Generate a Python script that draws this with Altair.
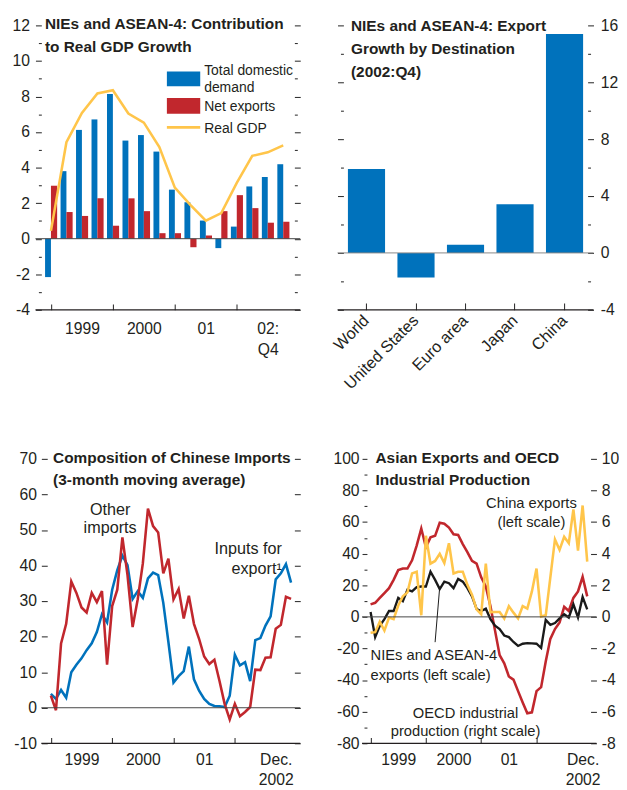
import altair as alt
import pandas as pd

FONT = "Liberation Sans, Arial, Helvetica, sans-serif"
TXT = "#231F20"
BLUE = "#0072BC"
RED = "#C1272D"
YELLOW = "#FFC54A"
DARK = "#231F20"

# ---------------- Panel 1: contribution to real GDP growth (quarters 1999Q1..2002Q4)
p1_quarters = list(range(16))
p1_domestic = [-2.16, 3.80, 6.12, 6.71, 8.14, 5.52, 5.83, 4.90, 2.76, 2.05, 1.02, -0.53, 0.68, 2.94, 3.47, 4.19]
p1_net = [2.98, 1.50, 1.28, 2.27, 0.73, 2.27, 1.55, 0.31, 0.31, -0.48, 0.18, 1.55, 2.45, 1.72, 0.90, 0.95]
p1_gdp = [0.44, 5.43, 7.07, 8.17, 8.35, 7.04, 6.53, 5.16, 2.87, 1.90, 1.01, 1.44, 3.14, 4.66, 4.86, 5.25]
p1_tick_pos = [0, 4, 8, 12]
p1_label_pos = [2, 6, 10, 14]
p1_labels = ["1999", "2000", "01", "02:\nQ4"]
p1_title = ["NIEs and ASEAN-4: Contribution", "to Real GDP Growth"]
p1_legend = [["Total domestic", "demand"], ["Net exports"], ["Real GDP"]]

# ---------------- Panel 2: export growth by destination
p2_dest = ["World", "United States", "Euro area", "Japan", "China"]
p2_growth = [5.9, -1.72, 0.57, 3.43, 15.4]
p2_title = ["NIEs and ASEAN-4: Export", "Growth by Destination", "(2002:Q4)"]

# ---------------- Panel 3: composition of Chinese imports (monthly, Jan 1999..Dec 2002)
p3_months = list(range(48))
p3_inputs = [3.9, 2.5, 5.0, 2.8, 10.0, 12.1, 13.9, 16.2, 18.1, 21.3, 26.3, 24.0,
             33.2, 38.7, 42.8, 40.1, 30.6, 32.8, 30.9, 36.4, 38.0, 37.3, 29.5, 18.5,
             7.1, 8.9, 10.3, 17.2, 8.0, 4.8, 2.5, 1.1, 0.5, 0.4, 0.2, 3.4,
             14.9, 11.9, 12.8, 7.5, 19.0, 19.6, 23.1, 25.7, 36.1, 37.8, 40.4, 35.2]
p3_other = [3.4, -0.7, 18.1, 23.6, 35.5, 32.3, 28.2, 26.8, 32.3, 29.7, 32.8, 12.1,
            28.6, 33.2, 47.9, 37.3, 22.7, 30.5, 40.6, 56.0, 51.1, 49.3, 37.8, 41.9,
            30.5, 33.4, 25.1, 31.5, 23.6, 19.4, 14.4, 12.3, 13.5, 7.5, 1.1, -3.3,
            1.1, -2.4, -1.2, 0.2, 10.7, 10.6, 14.1, 14.2, 22.2, 23.3, 31.2, 30.6]
p3_tick_pos = [0, 12, 24, 36]
p3_label_pos = [6, 18, 30, 44]
p3_labels = ["1999", "2000", "01", "Dec.\n2002"]
p3_title = ["Composition of Chinese Imports", "(3-month moving average)"]

# ---------------- Panel 4: Asian exports and OECD industrial production
p4_months = list(range(48))
p4_nies = [3.1, -12.8, -5.6, -1.4, 3.7, 3.7, 12.0, 9.9, 17.2, 16.1, 18.8, 19.2,
           19.2, 28.6, 23.4, 17.6, 22.3, 21.3, 18.2, 24.0, 22.3, 18.2, 13.0, 5.0,
           3.7, 5.2, -1.4, -5.6, -7.7, -11.8, -12.8, -15.9, -18.4, -17.0, -16.6, -16.8,
           -17.0, -19.7, -1.9, -5.0, -3.9, -1.0, 1.7, -0.4, 7.9, -0.4, 12.6, 4.8]
p4_china = [-10.1, -9.7, -3.1, -8.7, -0.4, -1.4, 7.2, 13.0, 15.5, 27.5, 28.6, 1.0,
            51.3, 33.7, 35.4, 39.9, 34.1, 46.6, 27.5, 28.6, 28.6, 20.3, 14.1, 4.8,
            1.7, 33.7, 3.0, 3.1, 3.1, -1.0, 6.8, 2.7, -1.0, 6.8, 5.2, 16.1,
            30.6, 0.2, 1.0, 25.0, 49.0, 42.4, 50.7, 46.6, 68.0, 42.0, 70.5, 35.0]
p4_oecd = [0.79, 0.89, 1.20, 1.51, 1.82, 2.34, 2.96, 3.06, 3.06, 3.58, 4.51, 5.59,
           4.41, 5.03, 5.13, 5.96, 5.90, 5.65, 5.23, 5.19, 4.61, 4.10, 3.54, 3.37,
           2.50, 1.92, 0.68, -0.87, -2.42, -2.94, -3.77, -3.97, -4.70, -5.42, -6.10, -6.04,
           -4.70, -4.45, -2.83, -1.39, -0.77, -0.35, 0.64, 0.37, 1.20, 1.61, 2.54, 1.30]
p4_tick_pos = [0, 12, 24, 36]
p4_label_pos = [6, 18, 30, 46]
p4_labels = ["1999", "2000", "01", "Dec.\n2002"]
p4_title = ["Asian Exports and OECD", "Industrial Production"]


# ---------------- helpers
def one():
    return alt.Chart(pd.DataFrame({"k": [0]}))


def label_expr(positions, labels):
    out = ""
    for p, l in zip(positions, labels):
        lines = l.split("\n")
        if len(lines) > 1:
            txt = "[" + ", ".join("'" + s + "'" for s in lines) + "]"
        else:
            txt = "'" + l + "'"
        out += "datum.value == %s ? %s : " % (p, txt)
    return out + "''"


def xaxis(tick_pos, label_pos, labels, size=6, pad=8, lh=21):
    vals = sorted(tick_pos + label_pos)
    return alt.Axis(values=vals, labelExpr=label_expr(label_pos, labels),
                    tickOpacity={"condition": {"test": "indexof(%s, datum.value) >= 0" % label_pos, "value": 0}, "value": 1},
                    tickSize=size, offset=-size, domain=False, grid=False, title=None,
                    labelAngle=0, labelAlign="center", labelBaseline="top", labelPadding=pad,
                    labelLineHeight=lh, labelOverlap=False, labelFlush=False)


def ylab(every):
    return "datum.value %% %d == 0 ? '' + datum.value : ''" % every


def ysize(every, major=6, minor=3):
    return {"condition": {"test": "datum.value %% %d != 0" % every, "value": minor}, "value": major}


def title_layer(lines, x, y, lh):
    return one().mark_text(text=lines, font=FONT, fontSize=15.7, fontWeight="bold", align="left",
                           baseline="alphabetic", lineHeight=lh, color=TXT).encode(
        x=alt.value(x), y=alt.value(y))


def note(lines, x, y, align, lh, size=15):
    return one().mark_text(text=lines, font=FONT, fontSize=size, align=align,
                           baseline="alphabetic", lineHeight=lh, color=TXT).encode(x=x, y=y)


# ---------------- Panel 1
df1 = pd.DataFrame({"q": p1_quarters, "dom": p1_domestic, "net": p1_net, "gdp": p1_gdp})
X1 = alt.Scale(domain=[-1, 16.1], nice=False, zero=False)
Y1 = alt.Scale(domain=[-4, 12], nice=False, zero=False)
xax1 = xaxis(p1_tick_pos, p1_label_pos, p1_labels, pad=11, lh=22)
y1L = alt.Axis(orient="left", values=list(range(-4, 13)), labelExpr=ylab(2), tickSize=ysize(2),
               offset=-6, domain=False, grid=False, title=None, labelPadding=6)
y1R = alt.Axis(orient="right", values=list(range(-4, 13)), labels=False, tickSize=ysize(2),
               offset=-6, domain=False, grid=False, title=None)
b1 = alt.Chart(df1)
dom_bars = b1.transform_calculate(q0="datum.q - 0.38").mark_bar(color=BLUE).encode(
    x=alt.X("q0:Q", scale=X1, axis=xax1), x2="q:Q",
    y=alt.Y("dom:Q", scale=Y1, axis=y1L), y2=alt.Y2Datum(0))
net_bars = b1.transform_calculate(q1="datum.q + 0.40").mark_bar(color=RED).encode(
    x=alt.X("q:Q", scale=X1, axis=xax1), x2="q1:Q",
    y=alt.Y("net:Q", scale=Y1, axis=None), y2=alt.Y2Datum(0))
gdp_line = b1.mark_line(color=YELLOW, strokeWidth=2.6).encode(
    x=alt.X("q:Q", scale=X1, axis=xax1), y=alt.Y("gdp:Q", scale=Y1, axis=None))
zero1 = one().mark_rule(color="#444", strokeWidth=1).encode(y=alt.YDatum(0, scale=Y1, axis=y1R))
bot1 = one().mark_rule(color=DARK, strokeWidth=1.2).encode(y=alt.YDatum(-4, scale=Y1, axis=None))
leg_blue = one().mark_rect(color=BLUE).encode(x=alt.value(134), x2=alt.value(168), y=alt.value(47), y2=alt.value(62))
leg_red = one().mark_rect(color=RED).encode(x=alt.value(134), x2=alt.value(168), y=alt.value(74), y2=alt.value(90))
leg_line = one().mark_rule(color=YELLOW, strokeWidth=2.6).encode(x=alt.value(134), x2=alt.value(168), y=alt.value(104))
leg_t1 = note(p1_legend[0], alt.value(172), alt.value(50.7), "left", 17, 14.2)
leg_t2 = note(p1_legend[1], alt.value(172), alt.value(87.3), "left", 17, 14.2)
leg_t3 = note(p1_legend[2], alt.value(172), alt.value(110), "left", 17, 14.2)
p1 = alt.layer(dom_bars, net_bars, gdp_line, zero1, bot1, leg_blue, leg_red, leg_line,
               leg_t1, leg_t2, leg_t3, title_layer(p1_title, 9.7, 4, 23.3)
               ).resolve_axis(y="independent").properties(width=270, height=290)

# ---------------- Panel 2
df2 = pd.DataFrame({"dest": p2_dest, "g": p2_growth})
X2 = alt.Scale(domain=p2_dest, paddingInner=0.25, paddingOuter=0.21)
Y2 = alt.Scale(domain=[-4, 16], nice=False, zero=False)
x2ax = alt.Axis(labelAngle=315, labelAlign="right", labelBaseline="middle", offset=-7, tickSize=7,
                domain=False, grid=False, title=None, labelPadding=8, labelFontSize=16.5)
y2L = alt.Axis(orient="left", values=list(range(-4, 17, 2)), labels=False, tickSize=ysize(4),
               offset=-6, domain=False, grid=False, title=None)
y2R = alt.Axis(orient="right", values=list(range(-4, 17, 2)), labelExpr=ylab(4), tickSize=ysize(4),
               offset=-6, domain=False, grid=False, title=None, labelPadding=7)
bars2 = alt.Chart(df2).mark_bar(color=BLUE).encode(
    x=alt.X("dest:N", scale=X2, axis=x2ax), y=alt.Y("g:Q", scale=Y2, axis=y2L), y2=alt.Y2Datum(0))
zero2 = one().mark_rule(color="#888", strokeWidth=1).encode(y=alt.YDatum(0, scale=Y2, axis=y2R))
bot2 = one().mark_rule(color=DARK, strokeWidth=1.2).encode(y=alt.YDatum(-4, scale=Y2, axis=None))
p2 = alt.layer(bars2, zero2, bot2, title_layer(p2_title, 13.7, 5.7, 23.5)
               ).resolve_axis(y="independent").properties(width=261, height=290)

# ---------------- Panel 3
df3 = pd.DataFrame({"m": p3_months, "inputs": p3_inputs, "other": p3_other})
X3 = alt.Scale(domain=[-3.01, 48.8], nice=False, zero=False)
Y3 = alt.Scale(domain=[-10, 70], nice=False, zero=False)
xax3 = xaxis(p3_tick_pos, p3_label_pos, p3_labels, pad=9, lh=20)
y3L = alt.Axis(orient="left", values=list(range(-10, 71, 10)), labelExpr="'' + datum.value", tickSize=6,
               offset=-12, domain=False, grid=False, title=None, labelPadding=5)
y3R = alt.Axis(orient="right", values=list(range(-10, 71, 10)), labels=False, tickSize=6,
               offset=-6, domain=False, grid=False, title=None)
b3 = alt.Chart(df3)
inp_line = b3.mark_line(color=BLUE, strokeWidth=2.6).encode(
    x=alt.X("m:Q", scale=X3, axis=xax3), y=alt.Y("inputs:Q", scale=Y3, axis=y3L))
oth_line = b3.mark_line(color=RED, strokeWidth=2.6).encode(
    x=alt.X("m:Q", scale=X3, axis=xax3), y=alt.Y("other:Q", scale=Y3, axis=None))
zero3 = one().mark_rule(color="#444", strokeWidth=1).encode(
    x=alt.XDatum(-1.86, scale=X3, axis=xax3), x2=alt.X2Datum(48.8),
    y=alt.YDatum(0, scale=Y3, axis=y3R))
bot3 = one().mark_rule(color=DARK, strokeWidth=1.2).encode(
    x=alt.XDatum(-1.86, scale=X3, axis=xax3), x2=alt.X2Datum(48.8),
    y=alt.YDatum(-10, scale=Y3, axis=None))
n31 = note(["Other", "imports"], alt.XDatum(11.6, scale=X3, axis=xax3), alt.YDatum(54.3, scale=Y3, axis=None), "center", 19, 16.5)
n32 = note(["Inputs for", "export\u00b9"], alt.XDatum(45.2, scale=X3, axis=xax3), alt.YDatum(43.2, scale=Y3, axis=None), "right", 20, 16.5)
p3 = alt.layer(inp_line, oth_line, zero3, bot3, n31, n32, title_layer(p3_title, 18, 4.3, 22.4)
               ).resolve_axis(y="independent").properties(width=270, height=290)

# ---------------- Panel 4
df4 = pd.DataFrame({"m": p4_months, "nies": p4_nies, "china": p4_china, "oecd": p4_oecd})
X4 = alt.Scale(domain=[-1.85, 49], nice=False, zero=False)
Y4L = alt.Scale(domain=[-80, 100], nice=False, zero=False)
Y4R = alt.Scale(domain=[-8, 10], nice=False, zero=False)
xax4 = xaxis(p4_tick_pos, p4_label_pos, p4_labels, pad=9, lh=20)
y4L = alt.Axis(orient="left", values=list(range(-80, 101, 10)), labelExpr=ylab(20), tickSize=ysize(20, 5, 3),
               offset=-5, domain=False, grid=False, title=None, labelPadding=3)
y4R = alt.Axis(orient="right", values=list(range(-8, 11, 2)), labelExpr="'' + datum.value", tickSize=6,
               offset=-6, domain=False, grid=False, title=None, labelPadding=5)
b4 = alt.Chart(df4)
oecd_line = b4.mark_line(color=RED, strokeWidth=2.6).encode(
    x=alt.X("m:Q", scale=X4, axis=xax4), y=alt.Y("oecd:Q", scale=Y4R, axis=y4R))
nies_line = b4.mark_line(color="#1a1a1a", strokeWidth=2.4).encode(
    x=alt.X("m:Q", scale=X4, axis=xax4), y=alt.Y("nies:Q", scale=Y4L, axis=y4L))
china_line = b4.mark_line(color=YELLOW, strokeWidth=2.6).encode(
    x=alt.X("m:Q", scale=X4, axis=xax4), y=alt.Y("china:Q", scale=Y4L, axis=y4L))
zero4 = one().mark_rule(color="#444", strokeWidth=1).encode(y=alt.YDatum(0, scale=Y4L, axis=y4L))
bot4 = one().mark_rule(color=DARK, strokeWidth=1.2).encode(y=alt.YDatum(-80, scale=Y4L, axis=y4L))
ptr4 = one().mark_rule(color="#1a1a1a", strokeWidth=1).encode(
    x=alt.XDatum(14.0, scale=X4, axis=xax4), x2=alt.X2Datum(14.96),
    y=alt.YDatum(-16, scale=Y4L, axis=y4L), y2=alt.Y2Datum(17.6))
n41 = note(["China exports", "(left scale)"], alt.XDatum(34.9, scale=X4, axis=xax4), alt.YDatum(68.9, scale=Y4L, axis=y4L), "center", 19)
n42 = note(["NIEs and ASEAN-4", "exports (left scale)"], alt.XDatum(0, scale=X4, axis=xax4), alt.YDatum(-27.3, scale=Y4L, axis=y4L), "left", 20)
n43 = note(["OECD industrial", "production (right scale)"], alt.XDatum(20.6, scale=X4, axis=xax4), alt.YDatum(-63.9, scale=Y4L, axis=y4L), "center", 18.5)
left4 = alt.layer(nies_line, china_line, zero4, bot4, ptr4, n41, n42, n43, title_layer(p4_title, 13.7, 4.3, 22.4))
p4 = alt.layer(oecd_line, left4).resolve_scale(y="independent").properties(width=239, height=290)

row1 = alt.hconcat(p1, p2, spacing=38, bounds="flush")
row2 = alt.hconcat(p3, p4, spacing=63, bounds="flush")
chart = alt.vconcat(row1, row2, spacing=442, bounds="flush").properties(
    padding={"left": 4, "top": 1, "right": 0, "bottom": 0}
).configure_view(stroke=None).configure_axis(
    labelFont=FONT, labelFontSize=16, labelColor=TXT, tickColor="#333", tickWidth=1.1,
    grid=False, domain=False)

chart.save("out.html", embed_options={"renderer": "svg", "actions": False})
